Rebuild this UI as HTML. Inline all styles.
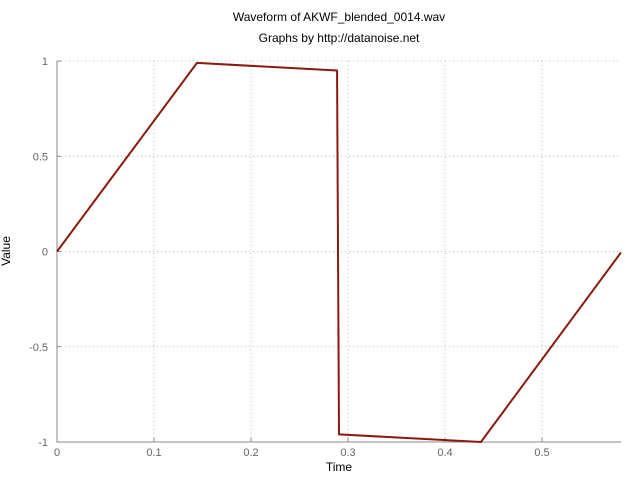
<!DOCTYPE html>
<html><head><meta charset="utf-8"><style>
html,body{margin:0;padding:0;background:#fff;}
svg{display:block;font-family:"Liberation Sans",sans-serif;}
</style></head><body>
<svg id="chart" width="640" height="480">
<rect width="640" height="480" fill="#fff"/>
<text x="339" y="21" font-size="12" text-anchor="middle" fill="#000">Waveform of AKWF_blended_0014.wav</text>
<text x="339" y="42" font-size="12" text-anchor="middle" fill="#000">Graphs by http://datanoise.net</text>
<text x="339" y="471" font-size="12" text-anchor="middle" fill="#000">Time</text>
<text x="10" y="251" font-size="12" text-anchor="middle" fill="#000" transform="rotate(-90 10 251)">Value</text>
<g id="grid"></g><g id="axes"></g><g id="series"></g>
</svg>
<script>
const xTicks=[0,0.1,0.2,0.3,0.4,0.5];
const xTickLabels=["0","0.1","0.2","0.3","0.4","0.5"];
const yTicks=[1,0.5,0,-0.5,-1];
const yTickLabels=["1","0.5","0","-0.5","-1"];
const timeValues=[0,0.1443,0.2887,0.2907,0.437,0.5814];
const waveValues=[0,0.99,0.95,-0.96,-1.0,-0.005];
const X0=57,X1=621,Y0=442,Y1=61,xMin=0,xMax=0.5814,yMin=-1,yMax=1;
const sx=v=>X0+(v-xMin)/(xMax-xMin)*(X1-X0);
const sy=v=>Y0-(v-yMin)/(yMax-yMin)*(Y0-Y1);
const NS="http://www.w3.org/2000/svg";
function mk(t,a,p){const e=document.createElementNS(NS,t);for(const k in a)e.setAttribute(k,a[k]);p.appendChild(e);return e;}
const grid=document.getElementById('grid'),axes=document.getElementById('axes'),series=document.getElementById('series');
xTicks.forEach((v,i)=>{const x=sx(v);
 if(i>0){const g=mk('line',{x1:x,x2:x,y1:Y1,y2:Y0,stroke:'#bbb','stroke-dasharray':'1,3'},grid);
 
 }
 const t=mk('line',{x1:x,x2:x,y1:Y0,y2:Y0-4,stroke:'#888'},axes);
 
 
 const l=mk('text',{x:x,y:Y0+14,'font-size':11,'text-anchor':'middle',fill:'#666'},axes);l.textContent=xTickLabels[i];
 
 });
yTicks.forEach((v,i)=>{const y=sy(v);
 if(v!==-1){const g=mk('line',{x1:X0,x2:X1,y1:y,y2:y,stroke:'#bbb','stroke-dasharray':'1,3'},grid);
 
 }
 const t=mk('line',{x1:X0,x2:X0+4,y1:y,y2:y,stroke:'#888'},axes);
 
 
 const l=mk('text',{x:X0-9,y:y+4,'font-size':11,'text-anchor':'end',fill:'#666'},axes);l.textContent=yTickLabels[i];
 
 });
const ax=mk('path',{d:`M${X0},${Y1}V${Y0}H${X1}`,stroke:'#888',fill:'none'},axes);


const pl=mk('polyline',{points:timeValues.map((t,i)=>sx(t)+','+sy(waveValues[i])).join(' '),fill:'none',stroke:'#8b1a0e','stroke-width':2,'stroke-linejoin':'round'},series);


</script>
</body></html>
